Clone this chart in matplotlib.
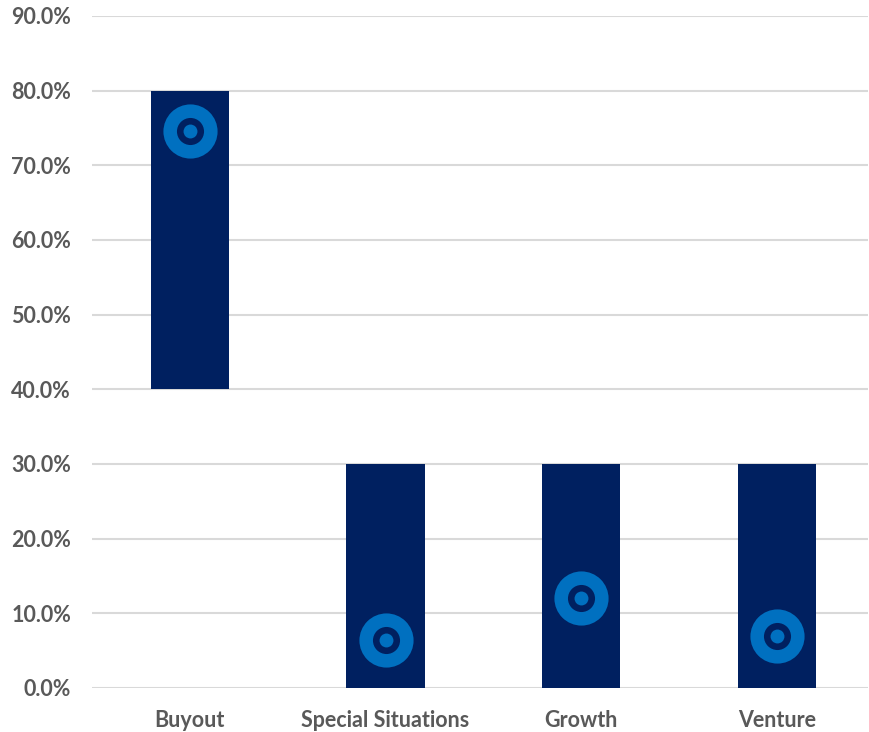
import matplotlib
matplotlib.use("Agg")
import matplotlib.pyplot as plt
from matplotlib.ticker import FuncFormatter

categories = ["Buyout", "Special Situations", "Growth", "Venture"]
range_low = [0.40, 0.0, 0.0, 0.0]
range_high = [0.80, 0.30, 0.30, 0.30]
current = [0.746, 0.064, 0.121, 0.069]

NAVY = "#002060"
BLUE = "#0070C0"
GREY = "#595959"

plt.rcParams["font.family"] = ["Lato", "DejaVu Sans"]

fig = plt.figure(figsize=(8.69, 7.32), dpi=100)
ax = fig.add_axes([92 / 869, 1 - 688 / 732, 776 / 869, 672 / 732])

x = range(len(categories))
heights = [h - l for l, h in zip(range_low, range_high)]
ax.bar(x, heights, bottom=range_low, width=0.40, color=NAVY, zorder=2)

# target-style markers: blue disc, navy ring, blue centre
ax.plot(x, current, "o", ms=39, color=BLUE, mec="none", zorder=3)
ax.plot(x, current, "o", ms=19.5, color=NAVY, mec="none", zorder=4)
ax.plot(x, current, "o", ms=10, color=BLUE, mec="none", zorder=5)

ax.set_xlim(-0.5, 3.465)
ax.set_ylim(0, 0.9)
ax.set_yticks([i / 10 for i in range(10)])
ax.yaxis.set_major_formatter(FuncFormatter(lambda v, _: f"{v * 100:.1f}%"))
ax.set_xticks(list(x))
ax.set_xticklabels(categories)

ax.grid(axis="y", color="#D9D9D9", lw=1.5, zorder=0)
ax.set_axisbelow(True)
for s in ax.spines.values():
    s.set_visible(False)
ax.tick_params(length=0, labelsize=15.5, labelcolor=GREY)
ax.tick_params(axis="y", pad=15)
ax.tick_params(axis="x", pad=16)
for lbl in ax.get_xticklabels() + ax.get_yticklabels():
    lbl.set_fontweight("bold")

fig.savefig("out.png", dpi=100)
